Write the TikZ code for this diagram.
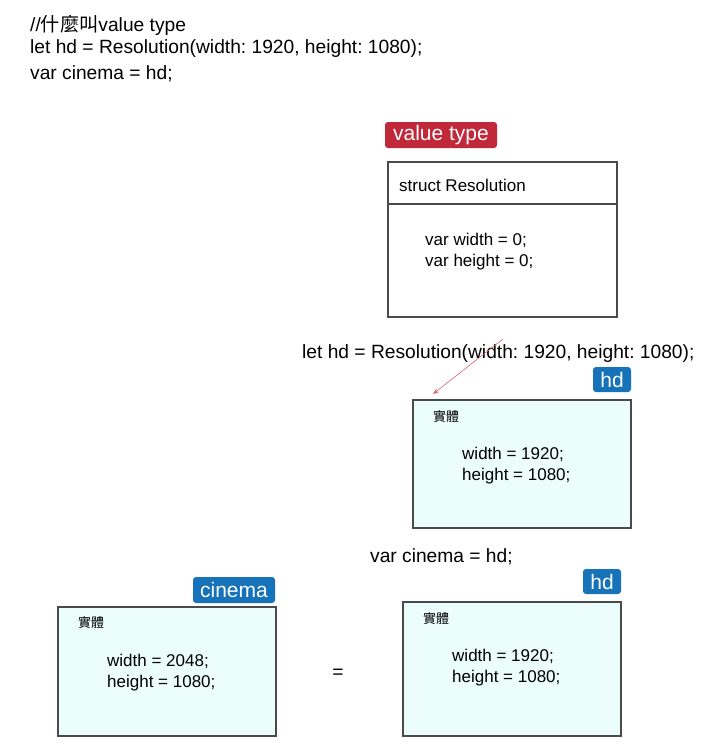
\documentclass[tikz,border=0pt]{standalone}
\usepackage{fontspec}
\setmainfont{Liberation Sans}
\newfontfamily\cjk{Noto Sans CJK TC}
\usetikzlibrary{arrows.meta}
\frenchspacing
\definecolor{badgered}{HTML}{C1283A}
\definecolor{badgeblue}{HTML}{1673BA}
\definecolor{boxfill}{HTML}{ECFEFC}
\definecolor{boxline}{HTML}{4A4A4A}
\definecolor{arrowred}{HTML}{E06070}
\begin{document}
\begin{tikzpicture}[x=1pt,y=-1pt,
  txt/.style={anchor=west,inner sep=0pt,yshift=-1.5pt,font=\fontsize{19.2}{22}\selectfont},
  intxt/.style={anchor=west,inner sep=0pt,yshift=-1.2pt,font=\fontsize{17}{20}\selectfont},
  smalltxt/.style={anchor=west,inner sep=0pt,yshift=-1pt,font=\fontsize{17}{20}\selectfont},
  cjktxt/.style={anchor=west,inner sep=0pt,font=\cjk\fontsize{13}{15}\selectfont},
  badge/.style={fill=#1, rounded corners=3pt, text=white, inner sep=0pt,
    font=\fontsize{21}{24}\selectfont},
  objbox/.style={draw=boxline, line width=1.1pt, fill=boxfill, inner sep=0pt},
  structbox/.style={draw=boxline, line width=1.1pt, fill=white, inner sep=0pt},
  ptr/.style={draw=arrowred, line width=0.6pt, -{Stealth[length=6pt,width=4.5pt]}}
]
\useasboundingbox (0,0) rectangle (707,753);
\fill[white] (0,0) rectangle (707,753);

% header code
\node[txt] (c1) at (30,24) {//{\cjk 什麼叫}value type};
\node[txt] (c2) at (30,47) {let hd = Resolution(width: 1920, height: 1080);};
\node[txt] (c3) at (30,72) {var cinema = hd;};

% value type badge
\node[badge=badgered, minimum width=112pt, minimum height=26pt] (vt) at (441,135) {value type};

% struct box
\node[structbox, minimum width=229pt, minimum height=155pt] (sbox) at (502.5,239.5) {};
\draw[boxline, line width=1.1pt] (sbox.west |- 0,204) coordinate (dl) -- (sbox.east |- 0,204) coordinate (dr);
\node[smalltxt] (sname) at (399,184) {struct Resolution};
\node[intxt] (sw) at (425,239) {var width = 0;};
\node[intxt] (sh) at (425,261) {var height = 0;};

% let hd line
\node[txt] (letline) at (302,352) {let hd = Resolution(width: 1920, height: 1080);};

% hd box
\node[badge=badgeblue, minimum width=38pt, minimum height=25pt] (hdb) at (612,379.5) {hd};
\node[objbox, minimum width=218pt, minimum height=128pt] (hdbox) at (522,464) {};
\node[cjktxt] (hdent) at (433,417) {實體};
\node[intxt] (hdw) at (462,453) {width = 1920;};
\node[intxt] (hdh) at (462,475) {height = 1080;};

\coordinate (astart) at (503,339);
\coordinate (aend) at (433,394);
\draw[ptr] (astart) -- (aend);

% var cinema line
\node[txt] (varline) at (370,555) {var cinema = hd;};

% second hd box
\node[badge=badgeblue, minimum width=38pt, minimum height=25pt] (hdb2) at (602,581.5) {hd};
\node[objbox, minimum width=218pt, minimum height=134pt] (hdbox2) at (512,669) {};
\node[cjktxt] (hdent2) at (423,619) {實體};
\node[intxt] (hdw2) at (452,655) {width = 1920;};
\node[intxt] (hdh2) at (452,677) {height = 1080;};

% cinema box
\node[badge=badgeblue, minimum width=82pt, minimum height=26pt] (cinb) at (234,590) {cinema};
\node[objbox, minimum width=218pt, minimum height=129pt] (cinbox) at (167,671.5) {};
\node[cjktxt] (cinent) at (78,623) {實體};
\node[intxt] (cinw) at (107,660) {width = 2048;};
\node[intxt] (cinh) at (107,682) {height = 1080;};

% equals sign
\node[txt, anchor=center] (eq) at (338,672) {=};
\end{tikzpicture}
\end{document}
